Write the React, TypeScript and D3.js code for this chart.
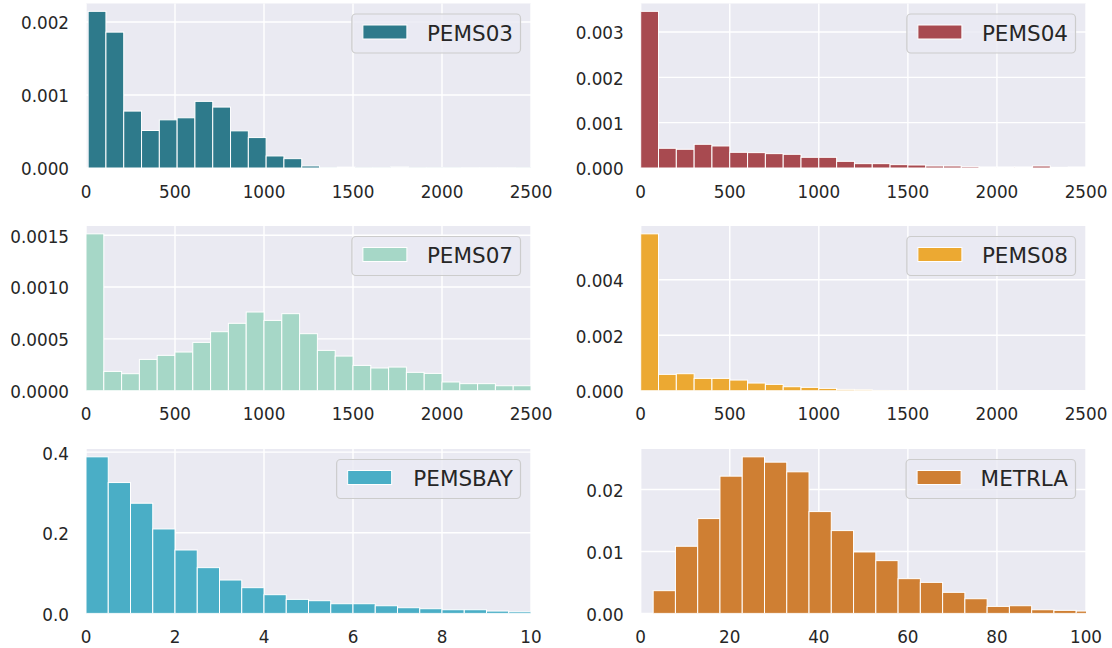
import React from "react";
import * as d3 from "d3";

// ---------- data ----------
const pems03Values = [0.002147, 0.001862, 0.00078, 0.000514, 0.00066, 0.000688, 0.000913, 0.000835, 0.000509, 0.000417, 0.000165, 0.000128, 0.000028, 0.000005, 0.000012, 0.000003, 0.000002, 0.000014, 0.000003, 0.000002, 0.000002, 0.000001, 0.000001, 0.000001, 0.000002];
const pems04Values = [0.003456, 0.000435, 0.000413, 0.000523, 0.000486, 0.000346, 0.000339, 0.000317, 0.000302, 0.000236, 0.000236, 0.000147, 0.000096, 0.000096, 0.000074, 0.000066, 0.000044, 0.000044, 0.00003, 0.000022, 0.000022, 0.000022, 0.000044, 0.000015, 0.000022];
const pems07Values = [0.001513, 0.000186, 0.000164, 0.000302, 0.000341, 0.000373, 0.000466, 0.000569, 0.00065, 0.000759, 0.000678, 0.000743, 0.00055, 0.000389, 0.000334, 0.000244, 0.000219, 0.000228, 0.000177, 0.000167, 0.000084, 0.000068, 0.000068, 0.000048, 0.000048];
const pems08Values = [0.005658, 0.000589, 0.000613, 0.000444, 0.000444, 0.000384, 0.000276, 0.000228, 0.000144, 0.00012, 0.000084, 0.000048, 0.000036, 0.00001, 0.000006, 0.000003, 0.000002, 0.000002, 0.000001, 0.000001, 0.000001, 0.000001, 0.000001, 0.000001, 0.000001];
const pemsbayValues = [0.3884, 0.3246, 0.2733, 0.2095, 0.1573, 0.1135, 0.0828, 0.0638, 0.0464, 0.0348, 0.0315, 0.024, 0.024, 0.019, 0.0141, 0.0116, 0.0091, 0.0091, 0.0058, 0.0041];
const metrlaValues = [0.00367, 0.01084, 0.01531, 0.02216, 0.02528, 0.02442, 0.02286, 0.01644, 0.01337, 0.00992, 0.00852, 0.00561, 0.00501, 0.0034, 0.00237, 0.00113, 0.00124, 0.00059, 0.00049, 0.00038];

const datasetNames = ["PEMS03", "PEMS04", "PEMS07", "PEMS08", "PEMSBAY", "METRLA"];
const binStarts = [12, 0, 0, 0, 0, 2.8];
const binWidths = [100, 100, 100, 100, 0.5, 5];
const xDomains: [number, number][] = [[0, 2500], [0, 2500], [0, 2500], [0, 2500], [0, 10], [0, 100]];
const xTickValues = [
  [0, 500, 1000, 1500, 2000, 2500],
  [0, 500, 1000, 1500, 2000, 2500],
  [0, 500, 1000, 1500, 2000, 2500],
  [0, 500, 1000, 1500, 2000, 2500],
  [0, 2, 4, 6, 8, 10],
  [0, 20, 40, 60, 80, 100],
];
const yTickValues = [
  [0, 0.001, 0.002],
  [0, 0.001, 0.002, 0.003],
  [0, 0.0005, 0.001, 0.0015],
  [0, 0.002, 0.004],
  [0, 0.2, 0.4],
  [0, 0.01, 0.02],
];
const yTickFormats = [".3f", ".3f", ".4f", ".3f", ".1f", ".2f"];
const colors = ["#2e7a8b", "#a84a50", "#a6d7c7", "#eca932", "#4aaec6", "#cf7f33"];
const allValues = [pems03Values, pems04Values, pems07Values, pems08Values, pemsbayValues, metrlaValues];

// ---------- layout ----------
const W = 1112;
const H = 648;
const cols = [
  { x0: 86, x1: 531 },
  { x0: 640.7, x1: 1086 },
];
const rows = [
  { y0: 3.5, y1: 168 },
  { y0: 226, y1: 390.7 },
  { y0: 449, y1: 613.4 },
];
const TICK_FS = 16.8;
const LEG_FS = 21.5;
const FONT = "'DejaVu Sans', sans-serif";
const charW: Record<string, number> = {
  P: 0.603, E: 0.632, M: 0.863, S: 0.635, B: 0.686, A: 0.684, Y: 0.611, T: 0.611, R: 0.695, L: 0.557,
  "0": 0.636, "3": 0.636, "4": 0.636, "7": 0.636, "8": 0.636,
};
const textWidth = (s: string, fs: number) => s.split("").reduce((a, c) => a + (charW[c] ?? 0.63), 0) * fs;

function Panel({ idx }: { idx: number }) {
  const col = cols[idx % 2];
  const row = rows[Math.floor(idx / 2)];
  const values = allValues[idx];
  const maxV = d3.max(values) as number;
  const x = d3.scaleLinear().domain(xDomains[idx]).range([col.x0, col.x1]);
  const y = d3.scaleLinear().domain([0, maxV * 1.05]).range([row.y1, row.y0]);
  const fmt = d3.format(yTickFormats[idx]);
  const clipId = `clip-${idx}`;
  const name = datasetNames[idx];
  const tw = textWidth(name, LEG_FS);
  const boxRight = col.x1 - 10.5;
  const boxW = tw + 82.5;
  const boxLeft = boxRight - boxW;
  const boxTop = row.y0 + 10.5;
  const boxH = 39;
  return (
    <g>
      <defs>
        <clipPath id={clipId}>
          <rect x={col.x0} y={row.y0} width={col.x1 - col.x0} height={row.y1 - row.y0} />
        </clipPath>
      </defs>
      <rect x={col.x0} y={row.y0} width={col.x1 - col.x0} height={row.y1 - row.y0} fill="#eaeaf2" />
      {xTickValues[idx].map((t) => (
        <line key={`gx${t}`} x1={x(t)} x2={x(t)} y1={row.y0} y2={row.y1} stroke="#ffffff" strokeWidth={1.4} />
      ))}
      {yTickValues[idx].map((t) => (
        <line key={`gy${t}`} x1={col.x0} x2={col.x1} y1={y(t)} y2={y(t)} stroke="#ffffff" strokeWidth={1.4} />
      ))}
      <g clipPath={`url(#${clipId})`}>
        {values.map((v, i) => {
          const a = binStarts[idx] + i * binWidths[idx];
          const b = a + binWidths[idx];
          return (
            <rect
              key={i}
              x={x(a)}
              width={x(b) - x(a)}
              y={y(v)}
              height={y(0) - y(v)}
              fill={colors[idx]}
              stroke="#ffffff"
              strokeWidth={1}
            />
          );
        })}
      </g>
      {xTickValues[idx].map((t) => (
        <text key={`tx${t}`} x={x(t)} y={row.y1 + 29.5} textAnchor="middle" fontSize={TICK_FS} fontFamily={FONT} fill="#262626">
          {String(t)}
        </text>
      ))}
      {yTickValues[idx].map((t) => (
        <text key={`ty${t}`} x={col.x0 - 17} y={y(t) + 7.4} textAnchor="end" fontSize={TICK_FS} fontFamily={FONT} fill="#262626">
          {fmt(t)}
        </text>
      ))}
      <rect x={boxLeft} y={boxTop} width={boxW} height={boxH} rx={4} ry={4} fill="#eaeaf2" fillOpacity={0.8} stroke="#cccccc" strokeWidth={1.2} />
      <rect x={boxLeft + 11} y={boxTop + 11} width={44} height={14} fill={colors[idx]} stroke="#ffffff" strokeWidth={1} />
      <text x={boxRight - 7.5} y={boxTop + 26.5} textAnchor="end" fontSize={LEG_FS} fontFamily={FONT} fill="#262626">
        {name}
      </text>
    </g>
  );
}

export default function App() {
  return (
    <svg
      width={W}
      height={H}
      style={{ position: "absolute", left: 0, top: 0, background: "#ffffff" }}
      xmlns="http://www.w3.org/2000/svg"
    >
      <rect x={0} y={0} width={W} height={H} fill="#ffffff" />
      {datasetNames.map((_, i) => (
        <Panel key={i} idx={i} />
      ))}
    </svg>
  );
}
